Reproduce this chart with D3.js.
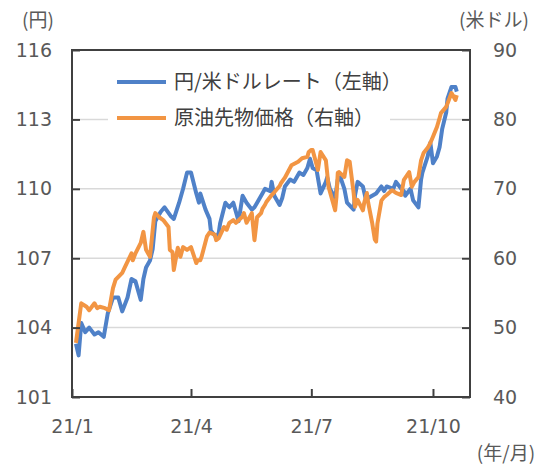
<!DOCTYPE html>
<html>
<head>
<meta charset="utf-8">
<script src="https://cdn.jsdelivr.net/npm/d3@7"></script>
<style>
  body { margin: 0; background: #fff; }
  text { font-family: "Noto Sans CJK JP", "Noto Sans", sans-serif; fill: #595959; }
  .tick text { font-family: "DejaVu Sans", sans-serif; }
</style>
</head>
<body>
<div id="chart"></div>
<script>
const width = 550;
const height = 472;
const margin = { top: 50, right: 80, bottom: 75, left: 72 };

// 円/米ドルレート (left axis, yen)
const usdJpyDates = [
    "01-04", "01-06", "01-08", "01-11", "01-14", "01-18", "01-21", "01-25", "01-28",
    "02-01", "02-05", "02-08", "02-12", "02-15", "02-18", "02-22", "02-24", "02-26",
    "03-01", "03-03", "03-05", "03-09", "03-12", "03-17", "03-19", "03-23", "03-26", "03-29",
    "04-01", "04-05", "04-07", "04-08", "04-12", "04-15", "04-16", "04-20", "04-22", "04-23", "04-27", "04-30",
    "05-03", "05-05", "05-07", "05-10", "05-13", "05-17", "05-19", "05-21", "05-25", "05-27", "05-31",
    "06-01", "06-03", "06-07", "06-09", "06-11", "06-15", "06-18", "06-22", "06-25", "06-28", "06-30",
    "07-02", "07-05", "07-08", "07-12", "07-13", "07-15", "07-19", "07-21", "07-23", "07-26", "07-28",
    "08-02", "08-03", "08-05", "08-09", "08-11", "08-13", "08-19", "08-23", "08-25", "08-27",
    "09-01", "09-03", "09-07", "09-09", "09-10", "09-14", "09-16", "09-20", "09-22", "09-23", "09-27", "09-29",
    "10-01", "10-04", "10-06", "10-08", "10-11", "10-12", "10-15", "10-18", "10-19"
];
const usdJpyValues = [
    103.3, 102.8, 104.2, 103.8, 104.0, 103.7, 103.8, 103.6, 104.6,
    105.3, 105.3, 104.7, 105.3, 106.1, 106.0, 105.2, 106.1, 106.6,
    106.9, 107.4, 108.6, 109.0, 109.2, 108.8, 108.7, 109.4, 110.0, 110.7,
    110.7, 109.8, 109.4, 109.8, 109.1, 108.7, 108.2, 107.9, 108.1, 108.5, 109.4, 109.2,
    109.4, 109.0, 108.6, 109.7, 109.4, 109.1, 109.2, 109.4, 109.8, 110.0, 109.9,
    110.3, 109.7, 109.3, 109.6, 110.1, 110.4, 110.3, 110.7, 110.6, 110.9, 111.3,
    110.9, 110.8, 109.8, 110.3, 110.5, 110.0, 109.6, 110.4, 110.5, 110.0, 109.4,
    109.1, 109.7, 110.3, 110.1, 109.6, 109.6, 109.8, 110.1, 109.9, 110.1,
    110.0, 110.3, 110.0, 109.9, 109.7, 110.0, 109.5, 109.2, 110.4, 110.7, 111.4, 112.0,
    111.1, 111.4, 111.8, 112.6, 113.3, 113.9, 114.4, 114.4, 114.2
];

// 原油先物価格 (right axis, US dollars)
const oilDates = [
    "01-04", "01-07", "01-08", "01-12", "01-14", "01-18", "01-20", "01-22", "01-26", "01-29",
    "02-01", "02-03", "02-08", "02-10", "02-15", "02-16", "02-18", "02-22", "02-24", "02-26",
    "03-01", "03-04", "03-05", "03-08", "03-11", "03-15", "03-16", "03-18", "03-19", "03-22", "03-24", "03-26", "03-29",
    "04-01", "04-05", "04-06", "04-08", "04-09", "04-13", "04-15", "04-19", "04-20", "04-22", "04-26", "04-28", "04-30",
    "05-03", "05-05", "05-10", "05-11", "05-13", "05-17", "05-19", "05-21", "05-24", "05-25", "05-27", "05-28",
    "06-01", "06-03", "06-07", "06-08", "06-11", "06-16", "06-21", "06-24", "06-28", "06-29",
    "07-01", "07-02", "07-06", "07-08", "07-12", "07-13", "07-14", "07-19", "07-20", "07-21", "07-22", "07-26", "07-28", "07-30",
    "08-02", "08-03", "08-05", "08-09", "08-10", "08-12", "08-13", "08-16", "08-18", "08-19", "08-20", "08-23", "08-25", "08-27", "08-31",
    "09-03", "09-07", "09-09", "09-13", "09-15", "09-17", "09-20", "09-22", "09-24", "09-27", "09-29",
    "10-01", "10-04", "10-06", "10-07", "10-11", "10-13", "10-15", "10-18", "10-19"
];
const oilValues = [
    47.8, 52.1, 53.5, 53.0, 52.5, 53.5, 52.8, 53.0, 52.8, 52.5,
    55.7, 56.9, 57.9, 58.7, 60.7, 59.7, 60.7, 62.2, 63.8, 61.2,
    60.2, 65.9, 66.5, 65.9, 65.5, 64.5, 61.2, 60.9, 58.3, 61.5, 60.2, 61.6, 61.2,
    61.6, 59.3, 59.7, 59.7, 60.2, 63.1, 63.7, 63.4, 62.6, 62.9, 64.5, 64.1, 65.1,
    65.5, 65.1, 66.0, 66.5, 65.1, 66.5, 62.6, 65.9, 66.5, 67.1, 67.7, 68.1,
    69.1, 69.5, 70.4, 70.8, 71.6, 73.4, 73.9, 74.4, 74.6, 75.3,
    75.6, 75.6, 72.7, 75.3, 74.1, 72.3, 70.3, 66.9, 68.8, 72.3, 72.4, 71.7, 74.1, 73.9,
    69.4, 67.4, 68.4, 66.9, 68.0, 69.4, 68.0, 65.1, 62.7, 62.4, 65.0, 68.3, 68.8, 69.1, 69.8,
    69.4, 69.1, 71.3, 72.4, 70.3, 71.0, 71.7, 74.1, 75.2, 75.9, 76.6,
    77.5, 78.9, 80.2, 80.9, 81.8, 82.8, 83.8, 82.8, 83.5
];

const leftTicks = [101, 104, 107, 110, 113, 116];
const rightTicks = [40, 50, 60, 70, 80, 90];
const monthTicks = ["01-01", "04-01", "07-01", "10-01"];
const monthLabels = ["21/1", "21/4", "21/7", "21/10"];

const seriesNames = ["円/米ドルレート（左軸）", "原油先物価格（右軸）"];
const seriesColors = ["#4f81c8", "#f29543"];

const parseDay = d3.timeParse("%Y-%m-%d");
const toDate = s => parseDay("2021-" + s);

const usdJpy = usdJpyDates.map((d, i) => ({ date: toDate(d), value: usdJpyValues[i] }));
const oil = oilDates.map((d, i) => ({ date: toDate(d), value: oilValues[i] }));

const innerW = width - margin.left - margin.right;
const innerH = height - margin.top - margin.bottom;

const x = d3.scaleTime()
    .domain([toDate("01-01"), toDate("10-29")])
    .range([0, innerW]);
const yLeft = d3.scaleLinear().domain([101, 116]).range([innerH, 0]);
const yRight = d3.scaleLinear().domain([40, 90]).range([innerH, 0]);

const svg = d3.select("#chart")
    .append("svg")
    .attr("width", width)
    .attr("height", height);

const g = svg.append("g")
    .attr("transform", "translate(" + margin.left + "," + margin.top + ")");

// gridlines
g.append("g")
    .selectAll("line")
    .data(leftTicks.slice(1, -1))
    .join("line")
    .attr("x1", 8)
    .attr("x2", innerW - 8)
    .attr("y1", d => yLeft(d))
    .attr("y2", d => yLeft(d))
    .attr("stroke", "#d9d9d9")
    .attr("stroke-width", 1.5);

// legend background hides the grid behind it
g.append("rect")
    .attr("x", 36)
    .attr("y", 14)
    .attr("width", 282)
    .attr("height", 74)
    .attr("fill", "#fff");

const line = yScale => d3.line()
    .x(d => x(d.date))
    .y(d => yScale(d.value));

g.append("path")
    .datum(usdJpy)
    .attr("fill", "none")
    .attr("stroke", seriesColors[0])
    .attr("stroke-width", 4)
    .attr("stroke-linejoin", "round")
    .attr("d", line(yLeft));

g.append("path")
    .datum(oil)
    .attr("fill", "none")
    .attr("stroke", seriesColors[1])
    .attr("stroke-width", 4)
    .attr("stroke-linejoin", "round")
    .attr("d", line(yRight));

// frame
g.append("rect")
    .attr("width", innerW)
    .attr("height", innerH)
    .attr("fill", "none")
    .attr("stroke", "#404040")
    .attr("stroke-width", 2);

const styleAxis = sel => {
    sel.select(".domain").remove();
    sel.selectAll(".tick line").attr("stroke", "#404040").attr("stroke-width", 2);
    sel.selectAll(".tick text")
        .style("font-size", "19px")
        .style("fill", "#595959");
};

g.append("g")
    .call(d3.axisLeft(yLeft).tickValues(leftTicks).tickSizeInner(-8).tickSizeOuter(0).tickPadding(20))
    .call(styleAxis);

g.append("g")
    .attr("transform", "translate(" + innerW + ",0)")
    .call(d3.axisRight(yRight).tickValues(rightTicks).tickSizeInner(-8).tickSizeOuter(0).tickPadding(23))
    .call(styleAxis);

g.append("g")
    .attr("transform", "translate(0," + innerH + ")")
    .call(d3.axisBottom(x)
        .tickValues(monthTicks.map(toDate))
        .tickFormat((d, i) => monthLabels[i])
        .tickSizeInner(-8).tickSizeOuter(0).tickPadding(23))
    .call(styleAxis);

// unit labels
svg.append("text").attr("x", 38).attr("y", 27).attr("text-anchor", "middle")
    .style("font-size", "19px").text("(円)");
svg.append("text").attr("x", 494).attr("y", 27).attr("text-anchor", "middle")
    .style("font-size", "19px").text("(米ドル)");
svg.append("text").attr("x", 506).attr("y", 460).attr("text-anchor", "middle")
    .style("font-size", "19px").text("(年/月)");

// legend
const legend = g.append("g")
    .selectAll("g")
    .data(seriesNames)
    .join("g")
    .attr("transform", (d, i) => "translate(45," + (32 + i * 36) + ")");

legend.append("line")
    .attr("x1", 0)
    .attr("x2", 49)
    .attr("stroke", (d, i) => seriesColors[i])
    .attr("stroke-width", 4);

legend.append("text")
    .attr("x", 57)
    .attr("dy", "0.36em")
    .style("font-size", "20px")
    .style("fill", "#404040")
    .text(d => d);
</script>
</body>
</html>
